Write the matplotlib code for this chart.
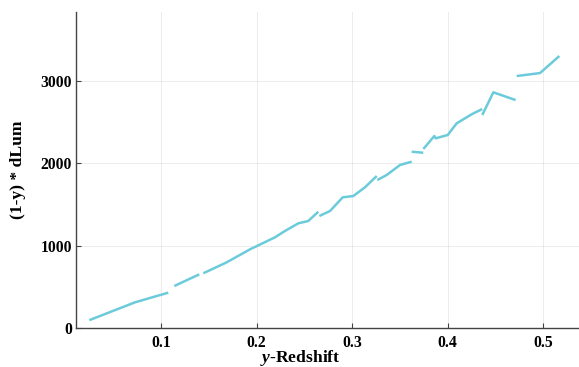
import numpy as np
import matplotlib
matplotlib.use("Agg")
import matplotlib.pyplot as plt

# redshift vs (1-y)*dLum, NaN marks a break in the line
redshift = [0.0249, 0.0728, 0.1076, np.nan,
            0.1139, 0.1401, np.nan,
            0.1443, 0.1688, 0.1932, 0.2194, 0.2298, 0.2438, 0.2542, 0.2647, np.nan,
            0.2658, 0.2770, 0.2903, 0.3014, 0.3136, 0.3259, np.nan,
            0.3265, 0.3363, 0.3503, 0.3625, np.nan,
            0.3625, 0.3746, np.nan,
            0.3747, 0.3862, 0.3876, 0.4002, 0.4096, 0.4253, 0.4364, np.nan,
            0.4364, 0.4480, 0.4713, np.nan,
            0.4725, 0.4969, 0.5171]
dlum = [95, 312, 429, np.nan,
        510, 652, np.nan,
        665, 798, 956, 1102, 1179, 1272, 1300, 1413, np.nan,
        1361, 1422, 1588, 1604, 1710, 1847, np.nan,
        1798, 1859, 1981, 2021, np.nan,
        2142, 2130, np.nan,
        2175, 2333, 2305, 2345, 2487, 2597, 2661, np.nan,
        2588, 2864, 2770, np.nan,
        3062, 3098, 3305]

plt.rcParams['font.family'] = 'Liberation Serif'
plt.rcParams['font.weight'] = 'bold'
plt.rcParams['mathtext.fontset'] = 'custom'
plt.rcParams['mathtext.it'] = 'Liberation Serif:italic:bold'

fig = plt.figure(figsize=(5.79, 3.67), dpi=100)
ax = fig.add_axes([0.1313, 0.1063, 0.8687, 0.8610])

ax.plot(redshift, dlum, color='#6ccbdb', lw=1.8, solid_capstyle='butt')

ax.set_xlim(0.011, 0.5377)
ax.set_ylim(0, 3840)
ax.set_xticks([0.1, 0.2, 0.3, 0.4, 0.5])
ax.set_xticklabels(['0.1', '0.2', '0.3', '0.4', '0.5'])
ax.set_yticks([0, 1000, 2000, 3000])
ax.grid(True, color='black', alpha=0.08, lw=0.7)

for side in ['top', 'right']:
    ax.spines[side].set_visible(False)
for side in ['left', 'bottom']:
    ax.spines[side].set_color('#444444')
    ax.spines[side].set_linewidth(1.0)

ax.tick_params(direction='in', length=3.5, width=0.8, color='#444444',
               labelsize=11.3)
ax.tick_params(axis='x', pad=5)
ax.tick_params(axis='y', pad=3)
for lab in ax.get_xticklabels() + ax.get_yticklabels():
    lab.set_fontweight('bold')

ax.set_xlabel('$y$-Redshift', fontsize=12.6, fontweight='bold')
ax.set_ylabel('(1-y) * dLum', fontsize=12.6, fontweight='bold')
ax.xaxis.set_label_coords(0.446, -0.063)
ax.yaxis.set_label_coords(-0.100, 0.5)

fig.savefig('out.png', dpi=100)
